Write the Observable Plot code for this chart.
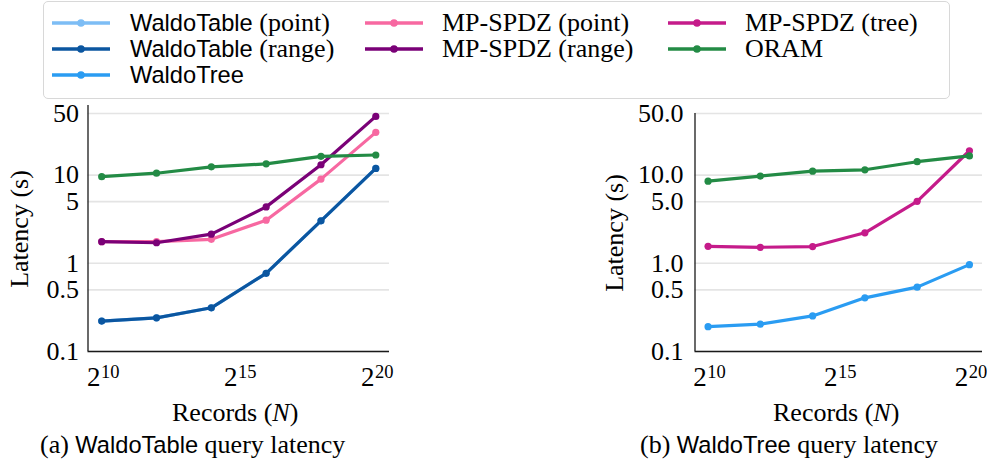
<!DOCTYPE html>
<html><head><meta charset="utf-8">
<script src="https://cdn.jsdelivr.net/npm/d3@7"></script>
<script src="https://cdn.jsdelivr.net/npm/@observablehq/plot@0.6"></script>
<style>
body{margin:0;background:#fff;}
#root{position:relative;width:987px;height:466px;overflow:hidden;font-family:"Liberation Serif","Times New Roman",serif;color:#000;}
.sf{font-family:"Liberation Sans",Arial,sans-serif;font-size:0.91em;}
.abs{position:absolute;white-space:nowrap;font-size:26px;line-height:26px;}
#legendbox{position:absolute;left:43px;top:1px;width:907px;height:98px;border:1.5px solid #d8d8d8;border-radius:5px;background:#fff;box-sizing:border-box;}
.chart{position:absolute;font-family:"Liberation Serif","Times New Roman",serif !important;}
.chart text{font-family:"Liberation Serif","Times New Roman",serif !important;}
.rot{transform:translate(-50%,-50%) rotate(-90deg);}
</style></head>
<body>
<div id="root">
  <div id="legendbox"></div>
</div>
<script>
// ----- data -----
const log2N = [10, 12, 14, 16, 18, 20];          // Records N = 2^x
const xTickExp = [10, 15, 20];
const yTicks = [0.1, 0.5, 1, 5, 10, 50];

const names = ["WaldoTable (point)", "WaldoTable (range)", "WaldoTree", "MP-SPDZ (point)", "MP-SPDZ (range)", "MP-SPDZ (tree)", "ORAM"];
const colors = ["#7dbdf5", "#0b56a0", "#2a9cf2", "#f768a1", "#7a0177", "#c51b8a", "#238b45"];

// (a) WaldoTable query latency (s)
const aWaldoTablePoint = [0.221, 0.241, 0.313, 0.77, 3.03, 11.9];
const aWaldoTableRange = [0.221, 0.241, 0.313, 0.77, 3.03, 11.9];
const aSpdzPoint       = [1.76, 1.76, 1.87, 3.08, 9.0, 30.5];
const aSpdzRange       = [1.76, 1.71, 2.14, 4.36, 13.1, 46.3];
const aOram            = [9.6, 10.5, 12.4, 13.4, 16.3, 16.9];

// (b) WaldoTree query latency (s)
const bWaldoTree = [0.191, 0.204, 0.253, 0.406, 0.537, 0.966];
const bSpdzTree  = [1.56, 1.52, 1.55, 2.22, 5.05, 18.9];
const bOram      = [8.55, 9.75, 11.1, 11.5, 14.2, 16.5];

const FONT = "'Liberation Serif', 'Times New Roman', serif";
const root = document.getElementById("root");

// ----- legend -----
const legendCols = [[0,1,2],[3,4],[5,6]];
const colX = [[52,130],[365,442],[668,745]];
const rowY = [22.7, 49.3, 75];
legendCols.forEach((col, ci) => {
  col.forEach((si, ri) => {
    const sw = document.createElementNS("http://www.w3.org/2000/svg","svg");
    sw.setAttribute("width", 58); sw.setAttribute("height", 12);
    sw.style.position = "absolute"; sw.style.left = colX[ci][0] + "px"; sw.style.top = (rowY[ri]-6) + "px";
    sw.innerHTML = `<line x1="0" x2="58" y1="6" y2="6" stroke="${colors[si]}" stroke-width="3.6"/><circle cx="29" cy="6" r="3.8" fill="${colors[si]}"/>`;
    root.appendChild(sw);
    const t = document.createElement("div");
    t.className = "abs";
    t.style.left = colX[ci][1] + "px"; t.style.top = (rowY[ri]-13) + "px";
    const nm = names[si];
    const m = nm.match(/^(WaldoTable|WaldoTree)(.*)$/);
    t.innerHTML = m ? `<span class="sf">${m[1]}</span>${m[2]}` : nm;
    root.appendChild(t);
  });
});

// ----- charts -----
function makeChart(series, o) {
  const marks = [
    Plot.ruleY(yTicks, {stroke: "#e4e4e4", strokeWidth: 1.6}),
    Plot.text(yTicks, {y: d => d, frameAnchor: "left", textAnchor: "end", dx: -o.pad, text: o.fmt, fontSize: 26, fontFamily: FONT, fill: "#000"})
  ];
  series.forEach(s => {
    const d = log2N.map((x, i) => ({x, y: s.values[i]}));
    marks.push(Plot.line(d, {x: "x", y: "y", stroke: colors[s.ci], strokeWidth: 3.2}));
    marks.push(Plot.dot(d, {x: "x", y: "y", r: 3.6, fill: colors[s.ci], stroke: "none"}));
  });
  marks.push(Plot.ruleX([9.5], {stroke: "#1a1a1a", strokeWidth: 1.3}));
  marks.push(Plot.ruleY([0.1], {stroke: "#1a1a1a", strokeWidth: 1.3}));
  marks.push(Plot.text(xTickExp, {x: d => d, frameAnchor: "bottom", text: () => "2", dx: -8, dy: 34, fontSize: 27, fontFamily: FONT, fill: "#000"}));
  marks.push(Plot.text(xTickExp, {x: d => d, frameAnchor: "bottom", text: d => String(d), dx: 8.5, dy: 26, fontSize: 18.5, fontFamily: FONT, fill: "#000"}));
  const p = Plot.plot({
    width: o.width, height: 310,
    marginLeft: o.ml, marginRight: o.mr, marginTop: o.mt, marginBottom: 54,
    x: {type: "linear", domain: [9.5, 20.5], axis: null},
    y: {type: "log", domain: o.ydom, axis: null},
    style: {fontFamily: FONT, fontSize: "26px", background: "transparent", overflow: "visible", color: "#000"},
    marks
  });
  p.classList.add("chart");
  p.style.left = o.left + "px"; p.style.top = "95px";
  p.style.fontFamily = FONT;
  p.setAttribute("font-family", FONT);
  root.appendChild(p);
}

makeChart([
  {ci: 0, values: aWaldoTablePoint},
  {ci: 1, values: aWaldoTableRange},
  {ci: 3, values: aSpdzPoint},
  {ci: 4, values: aSpdzRange},
  {ci: 6, values: aOram}
], {left: 0, width: 400, ml: 87.5, mr: 11, mt: 10, ydom: [0.1, 61.5], pad: 9, fmt: d => String(d)});

makeChart([
  {ci: 2, values: bWaldoTree},
  {ci: 5, values: bSpdzTree},
  {ci: 6, values: bOram}
], {left: 590, width: 397, ml: 104.5, mr: 5, mt: 18, ydom: [0.1, 50], pad: 11.5, fmt: d => d.toFixed(1)});

// ----- axis labels and captions -----
function addText(html, left, top, cls) {
  const t = document.createElement("div");
  t.className = "abs" + (cls ? " " + cls : "");
  t.style.left = left + "px"; t.style.top = top + "px";
  t.innerHTML = html;
  root.appendChild(t);
}
addText("Latency (s)", 20, 229, "rot");
addText("Latency (s)", 615, 233, "rot");
addText("Records (<i>N</i>)", 172, 400);
addText("Records (<i>N</i>)", 773, 400);
addText('(a) <span class="sf">WaldoTable</span> query latency', 40, 432);
addText('(b) <span class="sf">WaldoTree</span> query latency', 640, 432);
</script>
</body></html>
